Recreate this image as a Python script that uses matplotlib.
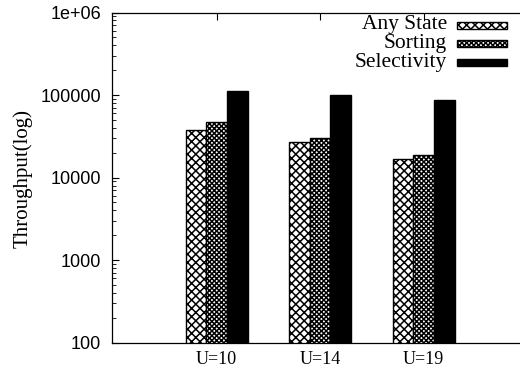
import numpy as np
import matplotlib
matplotlib.use("Agg")
import matplotlib.pyplot as plt
from matplotlib.patches import Rectangle
from matplotlib.ticker import LogLocator, FixedLocator

# data
groups = ["U=10", "U=14", "U=19"]
series = ["Any State", "Sorting", "Selectivity"]
any_state = [37400, 27300, 17000]
sorting = [47300, 30300, 18800]
selectivity = [113500, 101400, 88200]

hatches = ["xxxx", "xxxxxxx", None]
colors = ["white", "white", "black"]

plt.rcParams['hatch.linewidth'] = 1.1

W, H = 520, 372
fig = plt.figure(figsize=(W / 100, H / 100), dpi=100)
ax = fig.add_axes([112.3 / W, 1 - 342.7 / H, (520 - 112.3) / W, (342.7 - 12.5) / H])

x = np.arange(len(groups))
width = 0.2
values = [any_state, sorting, selectivity]
for i, vals in enumerate(values):
    ax.bar(x + (i - 1) * width, vals, width, bottom=1,
           facecolor=colors[i], edgecolor="black", linewidth=1.0,
           hatch=hatches[i], zorder=2)

ax.set_yscale("log")
ax.set_ylim(100, 1e6)
ax.set_xlim(-1.007, 2.93)

ax.yaxis.set_major_locator(FixedLocator([100, 1000, 10000, 100000, 1e6]))
ax.set_yticklabels(["100", "1000", "10000", "100000", "1e+06"],
                   family="Liberation Sans", fontsize=13)
ax.yaxis.set_minor_locator(LogLocator(base=10, subs=np.arange(2, 10)))
ax.yaxis.set_minor_formatter(plt.NullFormatter())

ax.set_xticks(x)
ax.set_xticklabels(groups, family="Liberation Serif", fontsize=13)

ax.tick_params(axis="y", which="major", direction="in", length=5, width=0.8,
               pad=8, left=True, right=False)
ax.tick_params(axis="y", which="minor", direction="in", length=3, width=0.6,
               left=True, right=False)
ax.tick_params(axis="x", which="major", direction="in", length=5, width=0.8,
               pad=6, top=True, bottom=True)

ax.spines["right"].set_visible(False)
for s in ["left", "top", "bottom"]:
    ax.spines[s].set_linewidth(0.9)

fig.text(23 / W, 1 - 179 / H, "Throughput(log)", rotation=90,
         ha="center", va="center", family="Liberation Serif", fontsize=15)

# legend, gnuplot style: text right aligned, sample box on the right
rows_y = [25, 43.5, 62]
for name, yy, hch, col in zip(series, rows_y, hatches, colors):
    fig.text(447 / W, 1 - yy / H, name, ha="right", va="center",
             family="Liberation Serif", fontsize=15.5)
    fig.add_artist(Rectangle((457 / W, 1 - (yy + 3.5) / H), 50 / W, 7 / H,
                             transform=fig.transFigure, facecolor=col,
                             edgecolor="black", linewidth=1.0, hatch=hch))

fig.savefig("out.png", dpi=100)
